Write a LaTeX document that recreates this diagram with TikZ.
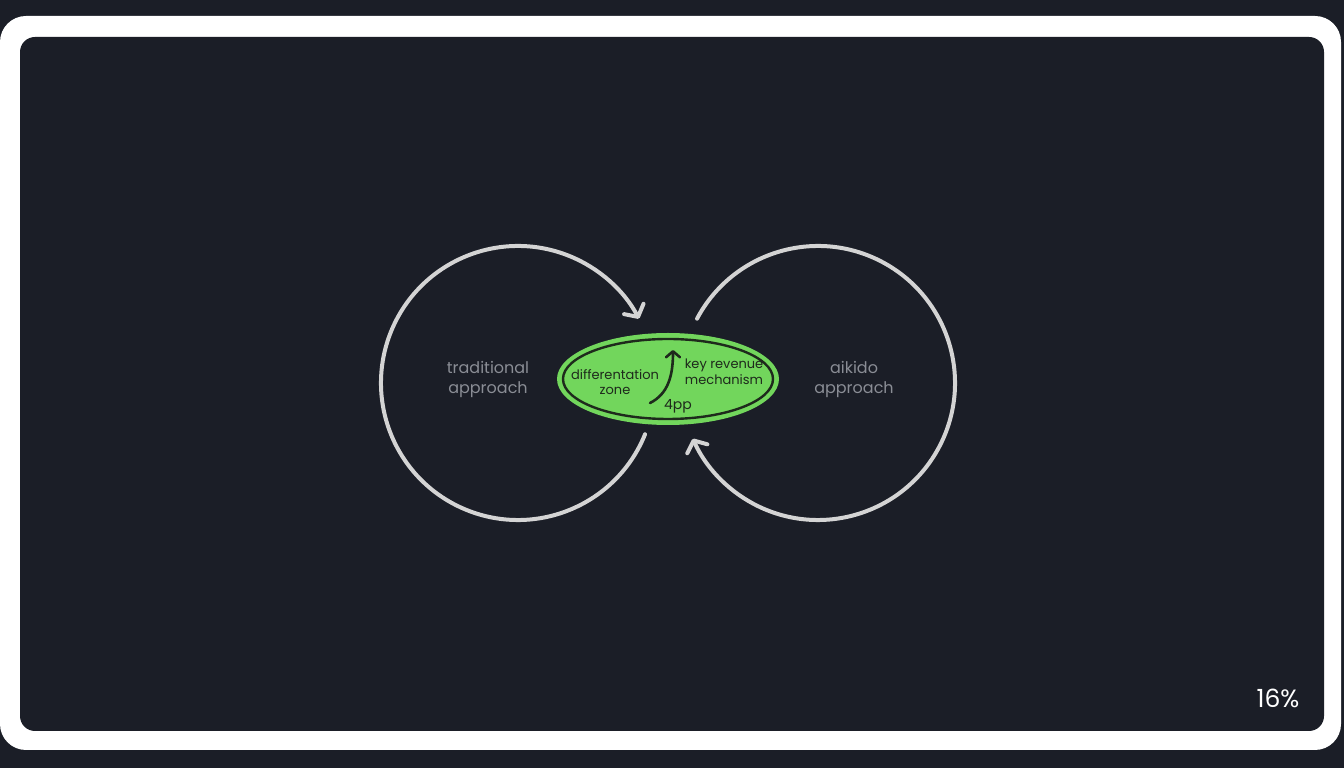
\documentclass[tikz,border=0pt]{standalone}
\usepackage{fontspec}
\setmainfont{Poppins}
\usetikzlibrary{arrows.meta,shapes.geometric}
\definecolor{bgdark}{HTML}{1B1E27}
\definecolor{frame}{HTML}{FFFFFF}
\definecolor{loopgray}{HTML}{D4D4D4}
\definecolor{labelgray}{HTML}{8A8D95}
\definecolor{zonegreen}{HTML}{72D65C}
\definecolor{inkdark}{HTML}{1E2A1C}
\tikzset{
  loop/.style={draw=loopgray, line width=4pt, line cap=round, -{Straight Barb[length=9pt,width=22pt,round]}},
  sidelabel/.style={text=labelgray, font=\fontsize{16}{20}\selectfont, align=center},
  innerlabel/.style={text=inkdark, font=\fontsize{13}{15.5}\selectfont, align=center},
}
\begin{document}
\begin{tikzpicture}[x=1pt,y=1pt]
\useasboundingbox (0,0) rectangle (1344,768);
\fill[bgdark] (0,0) rectangle (1344,768);
\fill[frame, rounded corners=26pt] (0,18) rectangle (1341,752);
\fill[bgdark, rounded corners=15pt] (20,37) rectangle (1324,731);

\coordinate (lc) at (518,385);
\coordinate (rc) at (818,385);

\draw[loop] (lc) ++(-22:137) arc[start angle=-22, end angle=-332, radius=137];
\draw[loop] (rc) ++(152:137) arc[start angle=152, end angle=-156, radius=137];

\node[ellipse, fill=zonegreen, minimum width=222pt, minimum height=92pt, inner sep=0pt] (zone) at (668,389) {};
\draw[inkdark, line width=2.4pt] (zone.center) ellipse[x radius=105, y radius=40];

\node[innerlabel] (diff) at (615,386) {differentation\\zone};
\node[innerlabel] (key) at (724,396) {key revenue\\mechanism};
\coordinate (ca) at (650,365);
\coordinate (cb) at (673,418);
\draw[inkdark, line width=2.6pt, line cap=round, -{Straight Barb[length=6pt,width=14pt,round]}] (ca) .. controls (668,374) and (673,392) .. (cb);
\node[innerlabel, font=\fontsize{14}{15}\selectfont] (pp) at (678,362) {4pp};

\node[sidelabel] (trad) at (488,389) {traditional\\approach};
\node[sidelabel] (aik) at (854,389) {aikido\\approach};

\node[text=white, font=\fontsize{25}{28}\selectfont] (pct) at (1278,70) {16\%};
\end{tikzpicture}
\end{document}
